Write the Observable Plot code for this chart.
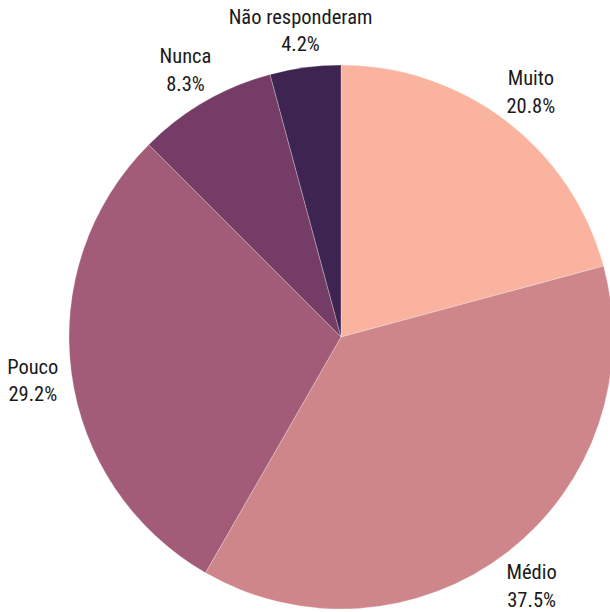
<!DOCTYPE html>
<html>
<head>
<meta charset="utf-8">
<script src="https://cdn.jsdelivr.net/npm/d3@7"></script>
<script src="https://cdn.jsdelivr.net/npm/@observablehq/plot@0.6"></script>
<style>
  html, body { margin: 0; padding: 0; background: #fff; }
  #chart svg { display: block; }
</style>
</head>
<body>
<div id="chart"></div>
<script>
const categories = ["Muito", "Médio", "Pouco", "Nunca", "Não responderam"];
const values = [20.8, 37.5, 29.2, 8.3, 4.2];
const labels = ["20.8%", "37.5%", "29.2%", "8.3%", "4.2%"];
const colors = ["#f9b39f", "#cf868b", "#a25c78", "#743c67", "#3e2450"];

const W = 610, H = 612, cx = 341, cy = 337, R = 272;
const pie = d3.pie().sort(null).value(d => d.value);
const arcs = pie(categories.map((c, i) => ({category: c, value: values[i], label: labels[i]})));
const data = arcs.map(a => {
  const mid = (a.startAngle + a.endAngle) / 2;
  const lr = 1.145;
  return {...a.data, startAngle: a.startAngle, endAngle: a.endAngle,
    lx: lr * Math.sin(mid), ly: lr * Math.cos(mid)};
});

const font = "'Roboto Condensed', 'Liberation Sans Narrow', Roboto, sans-serif";

const chart = Plot.plot({
  width: W, height: H,
  margin: 0,
  x: {domain: [-cx / R, (W - cx) / R], axis: null},
  y: {domain: [-(H - cy) / R, cy / R], axis: null},
  color: {domain: categories, range: colors},
  style: {fontFamily: font, background: "white"},
  marks: [
    Plot.dot(data, {
      x: () => 0, y: () => 0, fill: "category",
      render: (index, scales, values, dimensions, context) => {
        const x0 = scales.x(0), y0 = scales.y(0);
        const r = scales.x(1) - scales.x(0);
        const arc = d3.arc().innerRadius(0).outerRadius(r);
        const g = d3.create("svg:g").attr("transform", `translate(${x0},${y0})`);
        for (const i of index) {
          const d = data[i];
          g.append("path")
            .attr("d", arc({startAngle: d.startAngle, endAngle: d.endAngle}))
            .attr("fill", scales.color(d.category))
            .attr("stroke", "#ffffff")
            .attr("stroke-opacity", 0.35)
            .attr("stroke-width", 0.8);
        }
        return g.node();
      }
    }),
    Plot.text(data, {
      x: "lx", y: "ly",
      text: d => d.category + "\n" + d.label,
      fontSize: 20.5, lineHeight: 1.35,
      fill: "#1a1a1a",
      textAnchor: "middle", lineAnchor: "middle"
    })
  ]
});
document.getElementById("chart").append(chart);
</script>
</body>
</html>
